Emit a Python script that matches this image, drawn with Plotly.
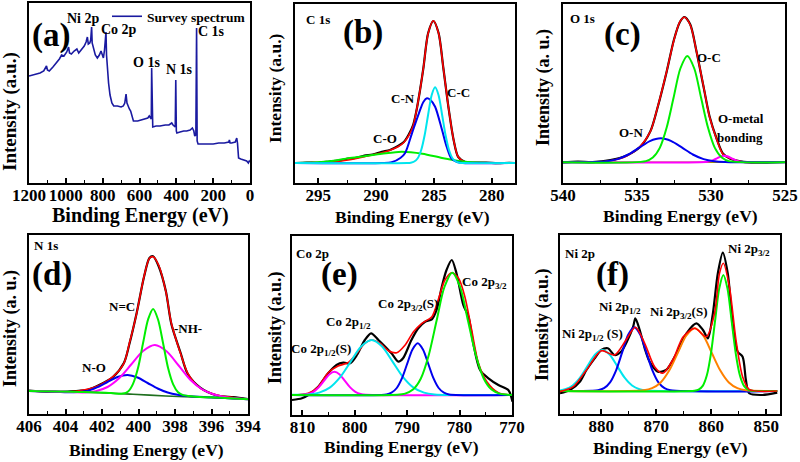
import plotly.graph_objects as go

W, H = 800, 462
FONT = "Liberation Serif"


def px(x):
    return x / W


def py(y):
    return 1 - y / H


# ---------------- (a) survey spectrum ----------------
a_be = [1200, 1180, 1160, 1140, 1120, 1105, 1100, 1090, 1070, 1050, 1035, 1023, 1010, 995, 985, 980,
        970, 955, 940, 930, 915, 900, 890, 883, 878, 870, 865, 860, 857, 850, 840, 829, 818, 809, 803,
        796, 790, 785, 782, 779, 775, 768, 760, 750, 740, 720, 700, 688, 680, 673, 668, 661, 655, 648,
        640, 633, 610, 590, 570, 555, 547, 540, 536, 534, 531, 528, 510, 489, 460, 440, 425, 418, 406,
        403, 400, 397, 380, 360, 344, 325, 313, 305, 300, 294, 290, 287, 282, 260, 230, 200, 170, 140,
        115, 112, 108, 100, 80, 72, 68, 62, 50, 30, 18, 9, 4, 0]
a_int = [107, 108, 109, 110, 112, 117, 113, 112, 116, 120, 124, 128, 127, 131, 136, 130,
         129, 132, 134, 130, 134, 137, 141, 146, 139, 140, 143, 156, 140, 134, 128, 125, 128, 132, 128,
         125, 133, 142, 151, 128, 116, 100, 88, 80, 77, 77, 76, 77, 80, 89, 80, 76, 74, 72,
         66, 62, 62, 63, 64, 65, 67, 64, 64, 115, 58, 56, 57, 57, 58, 58, 60, 58, 56,
         103, 52, 50, 51, 52, 52, 53, 55, 52, 47, 48, 155, 42, 39, 39, 39, 39, 40, 40,
         41, 43, 40, 40, 41, 45, 40, 25, 24, 23, 22, 20, 22, 21]

# ---------------- (b) C 1s ----------------
b_be = [297, 296, 295, 294, 293, 292.4, 291.8, 291, 290.3, 289.5, 288.8, 288.1, 287.6, 287.2, 286.8,
        286.5, 286.2, 285.9, 285.5, 285.05, 284.6, 284.2, 283.75, 283.3, 282.9, 282.3, 281.5, 280.5,
        279.5, 278.5, 278]
b_raw = [20, 20.5, 20.2, 21.5, 22.8, 24.5, 25, 27.3, 28.5, 31.2, 33, 37, 41, 48, 58,
         73, 93, 116, 150, 162, 150, 116, 76, 43, 26, 21, 20.3, 20.5, 19.8, 20.2, 20]
b_fit = [20, 20.2, 20.5, 21, 22, 23, 24.3, 26.3, 28.3, 30.3, 32.8, 36.3, 40.5, 47, 57,
         73, 93, 116, 149.7, 162.3, 149.7, 116, 76, 43, 26, 20.7, 20, 20, 20, 20, 20]
b_co_be = [297, 295, 293.5, 292.4, 291, 289.5, 287.8, 286, 284.3, 283, 282.3, 281, 279, 278]
b_co = [20, 20.8, 22.5, 24.7, 26.8, 29.2, 31.3, 29.3, 25, 22.3, 21.3, 20.2, 20, 20]
b_cn_be = [297, 289.5, 288.65, 287.9, 287.5, 286.9, 286.3, 285.9, 285.6, 285.3, 284.9, 284.3, 283.9,
           283.5, 283.0, 282.5, 278]
b_cn = [20, 20, 20.8, 25, 29.7, 49.7, 69.7, 81.3, 84.7, 83, 76.3, 53, 36.3, 24.7, 21, 20, 20]
b_cc_be = [297, 287.3, 287.0, 286.7, 286.4, 286.1, 285.8, 285.5, 285.2, 284.9, 284.6, 284.3, 284.0,
           283.7, 283.4, 283.1, 282.8, 282.5, 278]
b_cc = [20, 20, 20.3, 21.5, 24.8, 33, 48, 68.5, 87.8, 95.7, 87.8, 68.5, 48, 33, 24.8, 21.5, 20.3, 20, 20]

# ---------------- (c) O 1s ----------------
c_be = [540, 539, 538, 536.8, 535.7, 534.8, 534.1, 533.6, 533.0, 532.5, 532.1, 531.8, 531.4, 531.0,
        530.5, 530.1, 529.6, 529.2, 528.7, 527.8, 526.5, 525]
c_raw = [20.5, 21.3, 20.8, 22.8, 27.5, 36, 51.6, 76, 111, 143.5, 161, 166, 158.5, 133,
         96, 66.8, 43.5, 29.5, 24.2, 21.2, 20.3, 21]
c_fit = [20.7, 20.8, 21, 22.3, 27, 36.3, 51.3, 76.3, 111.3, 143, 161.3, 165.7, 158, 133,
         96.3, 66.3, 43, 29, 24.7, 20.7, 20.7, 20.7]
c_oc_be = [540, 534.4, 533.93, 533.46, 533.0, 532.53, 532.07, 531.6, 531.13, 530.67, 530.2, 529.74,
           529.27, 528.8, 525]
c_oc = [20.7, 21.9, 25.4, 35.1, 55.2, 85.2, 114.5, 127, 114.5, 85.2, 55.2, 35.1, 25.4, 21.9, 20.7]
c_on_be = [540, 537.75, 537.03, 536.3, 535.58, 534.85, 534.13, 533.4, 532.68, 531.95, 531.23, 530.5,
           529.78, 529.05, 525]
c_on = [20.7, 21, 21.8, 23.9, 28.5, 35.3, 41.9, 44.7, 41.9, 35.3, 28.5, 23.9, 21.8, 21, 20.7]
c_om_be = [540, 530.35, 530.1, 529.85, 529.6, 529.35, 529.1, 528.85, 528.6, 528.35, 528.1, 527.85, 525]
c_om = [20.7, 21, 21.6, 22.8, 24.7, 26.5, 27.3, 26.5, 24.7, 22.8, 21.6, 21, 20.7]

# ---------------- (d) N 1s ----------------
d_be = [406, 405, 403.9, 402.8, 402.1, 401.4, 400.8, 400.5, 400.1, 399.7, 399.4, 399.2, 398.9, 398.5,
        398.2, 397.7, 397.3, 396.6, 395.7, 394.8, 394]
d_raw = [23.5, 22.2, 22.5, 24.2, 29.5, 37, 51, 70, 101, 137, 156, 157.8, 148, 122.8,
         90, 61.5, 40, 26.2, 18.5, 16.8, 15]
d_fit = [23, 22.6, 22, 24.7, 29, 37.3, 50.7, 70.7, 100.7, 137.3, 155.7, 157.3, 149, 122.3,
         90.7, 60.7, 40.7, 25.7, 19, 16.5, 14.7]
d_nc_be = [406, 403, 401.5, 400.85, 400.57, 400.3, 400.02, 399.75, 399.47, 399.2, 398.93, 398.65,
           398.38, 398.1, 397.83, 397.55, 397.0, 395.5, 394]
d_nc = [23, 22, 20.9, 20.4, 22.5, 30.2, 46.5, 71, 94.8, 105, 94.5, 70.5, 46, 29.7, 21.8, 18.9, 17.6, 16.2, 14.7]
d_nh_be = [406, 404, 403.0, 402.35, 401.7, 401.05, 400.4, 399.75, 399.1, 398.45, 397.8, 397.15, 396.5,
           395.85, 395.2, 394]
d_nh = [23, 22.3, 21.6, 22.8, 27, 36, 49.5, 63, 69, 62.5, 48.5, 34, 24.5, 19.5, 16.8, 14.7]
d_no_be = [406, 404.5, 403.9, 403.35, 402.8, 402.25, 401.7, 401.15, 400.6, 400.05, 399.5, 398.95,
           398.4, 397.85, 397.3, 396, 394]
d_no = [23, 22.2, 21.8, 22, 23, 26.8, 32, 37, 39, 36.5, 31, 25.5, 21.5, 19.2, 18, 16.7, 14.7]
d_bg_be = [406, 402.1, 400.3, 398.5, 396.6, 394]
d_bg = [23, 21.3, 19.7, 18, 16.7, 14.7]

# ---------------- (e) Co 2p ----------------
e_be = [812, 810.1, 808.9, 807, 805.1, 803.5, 802.2, 800.9, 799.6, 798.1, 796.9, 795.5, 794.2, 793,
        791.7, 790.8, 789.2, 787.9, 786.6, 785.3, 784.4, 783.4, 782.5, 781.5, 780.6, 779.3, 778.3,
        777.4, 776.1, 774.5, 772.6, 770.7, 769.9]
e_raw = [15, 16.7, 20, 28.3, 41.7, 50, 52.3, 51.7, 60, 75, 81.7, 75, 68.3, 61.7,
         53.3, 56.7, 75, 86.7, 93.3, 95.7, 105, 128.3, 145, 155, 141.7, 110, 98.3,
         71.7, 45, 36.7, 30, 25, 13.3]
e_fit_be = [812, 808.9, 807, 805.1, 803.2, 801.3, 799.4, 798.1, 796.8, 795.2, 793.6, 792, 790.4, 788.8,
            787.2, 785.3, 784.1, 782.8, 781.5, 780.2, 779, 777.7, 776.4, 774.8, 772.6, 769.9]
e_fit = [20, 21.7, 28.3, 42.3, 49, 52.3, 63.3, 71.7, 75, 71.7, 64.3, 62.3, 70, 83.3,
         91.7, 98.3, 115, 135, 142.3, 136.7, 118.3, 85, 51.7, 33.3, 22.3, 20]
e_p1s_be = [812, 809.9, 808.9, 807.9, 806.9, 805.9, 804.9, 803.9, 802.9, 801.9, 800.9, 799.9, 798.9,
            797.9, 770]
e_p1s = [20, 20.3, 21, 23.2, 27.6, 34.1, 40.6, 43.3, 40.6, 34.1, 27.6, 23.2, 21, 20.3, 20]
e_p1_be = [812, 808.8, 806.8, 804.8, 802.8, 800.8, 798.8, 796.8, 794.8, 792.8, 790.8, 788.8, 786.8,
           784.8, 770]
e_p1 = [20.3, 20.6, 22.4, 27.4, 37.9, 53.4, 68.5, 75, 68.5, 53.4, 37.9, 27.4, 22.4, 20.6, 20]
e_p3s_be = [812, 794, 793, 792, 791, 790, 789, 788, 787, 786, 785, 784, 783, 782, 770]
e_p3s = [20, 20.6, 22.3, 27, 36.8, 51.4, 65.6, 71.7, 65.6, 51.4, 36.8, 27, 22.3, 20.6, 20]
e_p3_be = [812, 791.9, 790.4, 788.9, 787.4, 785.9, 784.4, 782.9, 781.4, 779.9, 778.4, 776.9, 775.4,
           773.9, 772.4, 770.9, 770]
e_p3 = [20, 20.3, 21.4, 25.4, 36.5, 59.7, 94.2, 128, 142.3, 128, 94.2, 59.7, 36.5, 25.4, 21.4, 20.3, 20]

# ---------------- (f) Ni 2p ----------------
f_be = [887.5, 885.7, 883.9, 882.7, 881.2, 880, 878.8, 877.6, 876.4, 875.2, 874.2, 873.8, 873, 872.1,
        871.2, 869.7, 868.2, 866.3, 864.5, 862.7, 861.5, 860.6, 859.7, 858.8, 857.9, 857, 856.1,
        855.2, 854.3, 853.7, 853.1, 850.7, 848]
f_raw = [20.7, 24, 32.3, 44, 55.7, 64, 65.7, 59, 62.3, 74, 87.3, 95.7, 84, 65.7,
         52.3, 42.3, 44, 60.7, 80.7, 90.7, 84, 75.7, 100.7, 140.7, 161.3, 140.7, 90.7,
         62.3, 57.3, 34, 20.7, 19, 21.3]
f_fit_be = [887.5, 885.1, 882.7, 880, 877.6, 875.5, 873.8, 872.1, 870.3, 868.8, 867, 865.1, 863,
            860.9, 859.4, 858.5, 857.8, 856.7, 855.5, 854.3, 853.1, 848]
f_fit = [22.3, 27.3, 44, 63.3, 59, 74, 86.7, 70.7, 47.3, 40.7, 54, 77.3, 85.7,
         77.3, 100.7, 140.7, 150.7, 127.3, 74, 37.3, 24.7, 23]
f_p1s_be = [887.6, 886.55, 885.2, 883.85, 882.5, 881.15, 879.8, 878.45, 877.1, 875.75, 874.4, 873.05,
            871.7, 848]
f_p1s = [23.5, 24.8, 28.5, 36.3, 47.9, 59.2, 64, 59.2, 47.9, 36.3, 28.5, 24.8, 23.5, 23]
f_p1_be = [887.6, 881.7, 880.6, 879.5, 878.4, 877.3, 876.2, 875.1, 874, 872.9, 871.8, 870.7, 869.6,
           868.5, 867.4, 848]
f_p1 = [23, 23.2, 23.7, 25.8, 31.6, 43.7, 61.6, 79.2, 86.7, 79.2, 61.6, 43.7, 31.6, 25.8, 23.7, 23]
f_p3s_be = [887.6, 872.3, 870.75, 869.2, 867.65, 866.1, 864.55, 863, 861.45, 859.9, 858.35, 856.8,
            855.25, 853.7, 848]
f_p3s = [23, 23.7, 25.8, 31.5, 43.4, 61, 78.3, 85.7, 78.3, 61, 43.4, 31.5, 25.8, 23.7, 23]
f_p3_be = [887.6, 863.05, 862.3, 861.55, 860.8, 860.05, 859.3, 858.55, 857.8, 857.05, 856.3, 855.55,
           854.8, 854.05, 853.3, 852.55, 848]
f_p3 = [23, 23.2, 24.3, 28.1, 38.7, 60.7, 93.4, 125.4, 139, 125.4, 93.4, 60.7, 38.7, 28.1, 24.3, 23.2, 23]

# ---------------- colours ----------------
BLACK, RED, GREEN, BLUE = "#000000", "#ff0000", "#00ee00", "#0000ee"
CYAN, MAGENTA, ORANGE, NAVY = "#00e5ee", "#ff00ff", "#ff8000", "#1a1aa0"
OLIVE, DKGREEN = "#a09000", "#1f6f1f"

fig = go.Figure()


def add(x, y, color, n, width=2.0, shape="spline", name=None, legend=False):
    fig.add_trace(go.Scatter(
        x=x, y=y, mode="lines", name=name or "",
        line=dict(color=color, width=width, shape=shape, smoothing=0.8 if shape == "spline" else None),
        xaxis="x" + ("" if n == 1 else str(n)), yaxis="y" + ("" if n == 1 else str(n)),
        showlegend=legend, hoverinfo="skip"))


# (a)
add(a_be, a_int, NAVY, 1, 1.6, "linear", "Survey spectrum", True)
# (b)
add(b_be, b_raw, BLACK, 2, 2.2)
add(b_be, b_fit, RED, 2, 1.6)
add(b_co_be, b_co, GREEN, 2)
add(b_cn_be, b_cn, BLUE, 2)
add(b_cc_be, b_cc, CYAN, 2)
# (c)
add(c_be, c_raw, BLACK, 3, 2.2)
add(c_be, c_fit, RED, 3, 1.6)
add([540, 525], [20.7, 20.7], OLIVE, 3, 1.6, "linear")
add(c_om_be, c_om, MAGENTA, 3)
add(c_on_be, c_on, BLUE, 3)
add(c_oc_be, c_oc, GREEN, 3)
# (d)
add(d_be, d_raw, BLACK, 4, 2.2)
add(d_be, d_fit, RED, 4, 1.6)
add(d_bg_be, d_bg, DKGREEN, 4, 1.6)
add(d_no_be, d_no, BLUE, 4)
add(d_nh_be, d_nh, MAGENTA, 4)
add(d_nc_be, d_nc, GREEN, 4)
# (e)
add(e_be, e_raw, BLACK, 5, 2.2)
add(e_fit_be, e_fit, RED, 5, 1.6)
add(e_p1s_be, e_p1s, MAGENTA, 5)
add(e_p1_be, e_p1, CYAN, 5)
add(e_p3s_be, e_p3s, BLUE, 5)
add(e_p3_be, e_p3, GREEN, 5)
# (f)
add(f_be, f_raw, BLACK, 6, 2.2)
add(f_p1s_be, f_p1s, CYAN, 6)
add(f_p1_be, f_p1, BLUE, 6)
add(f_p3s_be, f_p3s, ORANGE, 6)
add(f_p3_be, f_p3, GREEN, 6)
add(f_fit_be, f_fit, RED, 6, 1.6)

# panel geometry (pixel boxes), ranges, ticks, title positions (pixel centres)
panels = [
    # x0, x1, y0, y1, xrange, dtick, minor, ytitle, (ytitle x, y, size), (xtitle x, y, size), tick size
    (29, 250, 3, 183, [1200, 0], 200, 100, "Intensity (a.u.)", (10, 112, 19), (140, 216, 20), 17),
    (295, 515, 4, 183, [297, 278], 5, 2.5, "Intensity (a.u.)", (275, 88, 17.5), (412, 217, 17.5), 17),
    (563, 785, 4, 183, [540, 525], 5, 2.5, "Intensity (a. u.)", (543, 88, 18), (680, 216, 17.5), 17),
    (29, 248, 235, 414, [406, 394], 2, 1, "Intensity (a. u.)", (10, 329, 18), (146, 450, 17.5), 17),
    (292, 512, 236, 415, [812, 770], 10, 5, "Intensity (a.u.)", (275, 328, 18), (402, 447, 17.5), 17),
    (560, 780, 235, 414, [887.5, 847.5], 10, 5, "Intensity (a.u.)", (542, 325, 18), (670, 448, 17.5), 17),
]

layout = dict(
    width=W, height=H, margin=dict(l=0, r=0, t=0, b=0, autoexpand=False),
    paper_bgcolor="white", plot_bgcolor="white",
    font=dict(family=FONT, color="black"),
    showlegend=True,
    legend=dict(x=px(251), xanchor="right", y=py(1), yanchor="top",
                bgcolor="rgba(0,0,0,0)", borderwidth=0,
                font=dict(family=FONT, size=13.5, color="black", weight="bold"),
                itemwidth=30, tracegroupgap=0),
)

annotations = []
for i, (x0, x1, y0, y1, xr, dt, mdt, ytitle, yt, xt, tsz) in enumerate(panels, start=1):
    sfx = "" if i == 1 else str(i)
    layout["xaxis" + sfx] = dict(
        domain=[px(x0), px(x1)], range=xr, anchor="y" + sfx, automargin=False,
        dtick=dt, tick0=0, ticks="inside", ticklen=5, tickwidth=1.5, tickcolor="black",
        minor=dict(dtick=mdt, ticks="inside", ticklen=3, tickwidth=1.2, tickcolor="black"),
        showline=True, linecolor="black", linewidth=2, mirror=True,
        showgrid=False, zeroline=False, tickangle=0, ticklabelstandoff=-4,
        ticklabeloverflow="allow",
        tickfont=dict(family=FONT, size=tsz, color="black", weight="bold"),
    )
    layout["yaxis" + sfx] = dict(
        domain=[py(y1), py(y0)], range=[0, 179 if i > 1 else 180], anchor="x" + sfx,
        automargin=False,
        showticklabels=False, ticks="", showline=True, linecolor="black", linewidth=2,
        mirror=True, showgrid=False, zeroline=False,
    )
    annotations.append(dict(text=ytitle, x=px(yt[0]), y=py(yt[1]), textangle=-90, size=yt[2]))
    annotations.append(dict(text="Binding Energy (eV)", x=px(xt[0]), y=py(xt[1]), textangle=0, size=xt[2]))

fig.update_layout(**layout)

# text labels inside the panels (pixel centres)
labels = [
    ("(a)", 51, 35, 33), ("Ni 2p", 83, 19, 14), ("Co 2p", 119, 29, 14), ("O 1s", 146, 62, 14),
    ("N 1s", 179, 70, 14), ("C 1s", 211, 32, 14),
    ("C 1s", 318, 20, 13), ("(b)", 363, 33, 33), ("C-N", 403, 98, 13), ("C-C", 458, 92, 13),
    ("C-O", 385, 138, 13),
    ("O 1s", 582, 18, 13), ("(c)", 622, 34, 33), ("O-C", 709, 58, 13), ("O-N", 631, 133, 13),
    ("O-metal", 741, 118, 13), ("bonding", 740, 137, 13),
    ("N 1s", 46, 245, 13), ("(d)", 52, 274, 33), ("N=C", 122, 306, 13), ("-NH-", 188, 328, 13),
    ("N-O", 94, 367, 13),
    ("Co 2p", 312, 253, 13), ("(e)", 339, 274, 33), ("Co 2p<sub>3/2</sub>", 484, 282, 13),
    ("Co 2p<sub>3/2</sub>(S)", 408, 304, 13), ("Co 2p<sub>1/2</sub>", 348, 322, 13),
    ("Co 2p<sub>1/2</sub>(S)", 321, 349, 13),
    ("Ni 2p", 580, 253, 13), ("(f)", 612, 274, 33), ("Ni 2p<sub>3/2</sub>", 749, 249, 13),
    ("Ni 2p<sub>1/2</sub>", 620, 307, 13), ("Ni 2p<sub>3/2</sub>(S)", 679, 312, 13),
    ("Ni 2p<sub>1/2</sub> (S)", 592, 334, 13),
]
for text, x, y, size in labels:
    annotations.append(dict(text=text, x=px(x), y=py(y), textangle=0, size=size))

for a in annotations:
    fig.add_annotation(text=a["text"], x=a["x"], y=a["y"], xref="paper", yref="paper",
                       showarrow=False, xanchor="center", yanchor="middle", textangle=a["textangle"],
                       font=dict(family=FONT, size=a["size"], color="black", weight="bold"))

# the page's default body margin would shift the 800x462 figure; remove it
fig.write_html("out.html", config={"displayModeBar": False, "responsive": False},
               post_script="document.body.style.margin='0';document.body.style.overflow='hidden';")
